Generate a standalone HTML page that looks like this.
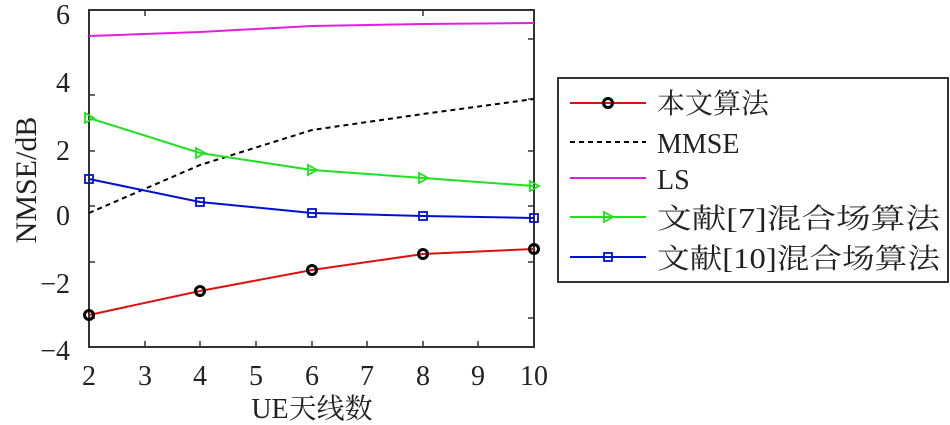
<!DOCTYPE html>
<html><head><meta charset="utf-8"><style>
html,body{margin:0;padding:0;background:#fff;width:950px;height:425px;overflow:hidden}
svg text{font-family:"Liberation Serif","DejaVu Serif","Noto Serif CJK SC",serif !important;fill:#222}
</style></head><body>
<svg width="950" height="425" viewBox="0 0 950 425" xmlns="http://www.w3.org/2000/svg" font-family="Liberation Serif, Noto Serif CJK SC, serif">
<rect x="89" y="10" width="445" height="337" fill="none" stroke="#333" stroke-width="2"/>
<g stroke="#333" stroke-width="1.5">
<line x1="145" y1="347" x2="145" y2="341"/><line x1="200" y1="347" x2="200" y2="341"/><line x1="256" y1="347" x2="256" y2="341"/><line x1="312" y1="347" x2="312" y2="341"/><line x1="367" y1="347" x2="367" y2="341"/><line x1="423" y1="347" x2="423" y2="341"/><line x1="478" y1="347" x2="478" y2="341"/>
<line x1="145" y1="10" x2="145" y2="16"/><line x1="423" y1="10" x2="423" y2="16"/>
<line x1="89" y1="95" x2="95" y2="95"/><line x1="89" y1="151" x2="95" y2="151"/><line x1="89" y1="206" x2="95" y2="206"/><line x1="89" y1="262" x2="95" y2="262"/><line x1="89" y1="318" x2="95" y2="318"/>
<line x1="534" y1="39" x2="528" y2="39"/><line x1="534" y1="99" x2="528" y2="99"/><line x1="534" y1="151" x2="528" y2="151"/><line x1="534" y1="206" x2="528" y2="206"/><line x1="534" y1="262" x2="528" y2="262"/><line x1="534" y1="318" x2="528" y2="318"/>
</g>
<g font-size="28" text-anchor="middle">
<text x="89" y="385">2</text><text x="145" y="385">3</text><text x="200" y="385">4</text><text x="256" y="385">5</text><text x="312" y="385">6</text><text x="367" y="385">7</text><text x="423" y="385">8</text><text x="478" y="385">9</text><text x="534" y="385">10</text>
</g>
<g font-size="28" text-anchor="end">
<text x="70" y="24">6</text><text x="70" y="92">4</text><text x="70" y="160">2</text><text x="70" y="225">0</text><text x="70" y="293">−2</text><text x="70" y="360">−4</text>
</g>
<text x="312" y="418" font-size="28" text-anchor="middle">UE天线数</text>
<text transform="translate(36,180) rotate(-90)" font-size="30" text-anchor="middle">NMSE/dB</text>
<polyline points="89,36 200,32 312,26 423,24 534,23" fill="none" stroke="#e020e0" stroke-width="2"/>
<polyline points="89,213 200,165 312,130 423,114 534,99" fill="none" stroke="#000" stroke-width="2" stroke-dasharray="5,4"/>
<polyline points="89,118 200,153 312,170 423,178 534,186" fill="none" stroke="#20e020" stroke-width="2"/>
<g fill="none" stroke="#20e020" stroke-width="1.8">
<path d="M85,113 L94,118 L85,123Z"/><path d="M196,148 L205,153 L196,158Z"/><path d="M308,165 L317,170 L308,175Z"/><path d="M419,173 L428,178 L419,183Z"/><path d="M530,181 L539,186 L530,191Z"/>
</g>
<polyline points="89,179 200,202 312,213 423,216 534,218" fill="none" stroke="#0010d0" stroke-width="2"/>
<g fill="none" stroke="#0010d0" stroke-width="1.8">
<rect x="85" y="175" width="8" height="8"/><rect x="196" y="198" width="8" height="8"/><rect x="308" y="209" width="8" height="8"/><rect x="419" y="212" width="8" height="8"/><rect x="530" y="214" width="8" height="8"/>
</g>
<polyline points="89,315 200,291 312,270 423,254 534,249" fill="none" stroke="#e01010" stroke-width="2"/>
<g fill="none" stroke="#000" stroke-width="3">
<circle cx="89" cy="315" r="4.5"/><circle cx="200" cy="291" r="4.5"/><circle cx="312" cy="270" r="4.5"/><circle cx="423" cy="254" r="4.5"/><circle cx="534" cy="249" r="4.5"/>
</g>
<rect x="558" y="78" width="390" height="204" fill="#fff" stroke="#333" stroke-width="2"/>
<line x1="570" y1="103" x2="646" y2="103" stroke="#e01010" stroke-width="2"/>
<circle cx="608" cy="103" r="4.5" fill="none" stroke="#000" stroke-width="3"/>
<line x1="570" y1="142" x2="646" y2="142" stroke="#000" stroke-width="2" stroke-dasharray="5,4"/>
<line x1="570" y1="178" x2="646" y2="178" stroke="#e020e0" stroke-width="2"/>
<line x1="570" y1="217" x2="646" y2="217" stroke="#20e020" stroke-width="2"/>
<path d="M604,212 L613,217 L604,222Z" fill="none" stroke="#20e020" stroke-width="1.8"/>
<line x1="570" y1="257" x2="646" y2="257" stroke="#0010d0" stroke-width="2"/>
<rect x="604" y="253" width="8" height="8" fill="none" stroke="#0010d0" stroke-width="1.8"/>
<g font-size="28">
<text x="657" y="113">本文算法</text>
<text x="657" y="153">MMSE</text>
<text x="657" y="189">LS</text>
<text x="657" y="228" textLength="283" lengthAdjust="spacingAndGlyphs">文献[7]混合场算法</text>
<text x="657" y="268" textLength="283" lengthAdjust="spacingAndGlyphs">文献[10]混合场算法</text>
</g>
</svg>
</body></html>
